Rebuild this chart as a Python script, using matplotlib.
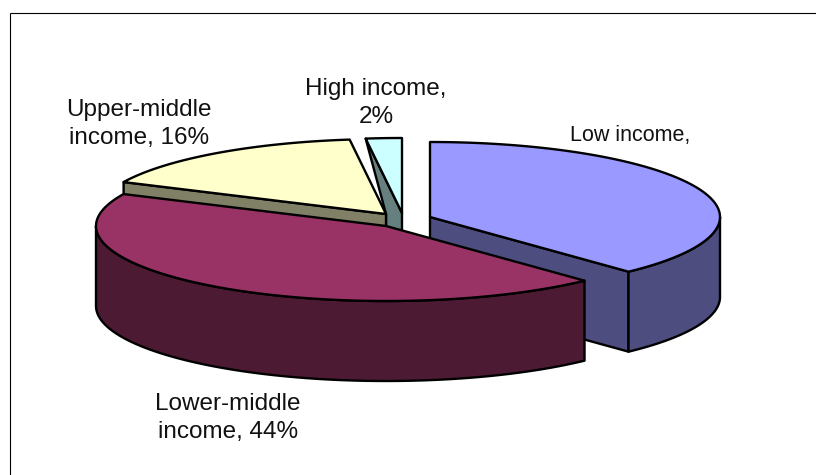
import numpy as np
import matplotlib
matplotlib.use('Agg')
import matplotlib.pyplot as plt
from matplotlib.patches import Polygon

plt.rcParams['font.family'] = ['Liberation Sans', 'DejaVu Sans']

# Chart data
categories = ['Low income', 'Lower-middle income', 'Upper-middle income', 'High income']
shares = [38, 44, 16, 2]

# Pie geometry, in pixels of the 816x475 canvas
RX, RY, DEPTH = 290, 75, 80
CENTERS = [(430, 217), (386, 226), (386, 214), (402, 213)]
TOP_COLORS = ['#9999FF', '#993366', '#FFFFCC', '#CCFFFF']
SIDE_COLORS = ['#4D4D80', '#4D1A33', '#808066', '#668080']
LW = 1.7


def rim(center, angle):
    a = np.radians(angle)
    return np.array([center[0] + RX * np.cos(a), center[1] - RY * np.sin(a)])


def arc(center, start, end):
    return [rim(center, t) for t in np.linspace(start, end, 120)]


def face(ax, pts, color):
    ax.add_patch(Polygon(np.array(pts), closed=True, facecolor=color, edgecolor='black',
                         linewidth=LW, joinstyle='round'))


def drop(p):
    return np.array([p[0], p[1] + DEPTH])


def draw_slice(ax, i, start, end):
    c = np.array(CENTERS[i], dtype=float)
    side = SIDE_COLORS[i]
    # cut faces, skipping those turned away from the viewer
    for angle, normal in ((start, start + 90), (end, end - 90)):
        if np.sin(np.radians(normal)) < -1e-6:
            p = rim(c, angle)
            face(ax, [c, p, drop(p), drop(c)], side)
    # outer wall, only the part turned towards the viewer
    low, high = max(end, -180), min(start, 0)
    if end < 0 and low < high:
        pts = arc(c, low, high)
        face(ax, pts + [drop(p) for p in pts[::-1]], side)
    face(ax, [c] + arc(c, start, end), TOP_COLORS[i])


fig = plt.figure(figsize=(8.16, 4.75), dpi=100)
ax = fig.add_axes([0, 0, 1, 1])
ax.set_xlim(0, 816)
ax.set_ylim(475, 0)
ax.axis('off')

# Chart frame shows only on its top and left sides
ax.plot([9.5, 816], [12.5, 12.5], color='black', lw=0.8, solid_capstyle='butt')
ax.plot([9.5, 9.5], [12.5, 475], color='black', lw=0.8, solid_capstyle='butt')

edges = 90 - np.cumsum([0] + shares) * 3.6
spans = {i: (edges[i], edges[i + 1]) for i in range(len(shares))}

# High income sits behind, its cut face is trimmed against the neighbour
s, e = spans[3]
c3 = np.array(CENTERS[3], dtype=float)
c2 = np.array(CENTERS[2], dtype=float)
p3 = rim(c3, s)
face(ax, [p3, c3, drop(c3), drop(c2), c2], SIDE_COLORS[3])
face(ax, [c3] + arc(c3, s, e), TOP_COLORS[3])

draw_slice(ax, 2, *spans[2])
draw_slice(ax, 0, *spans[0])
draw_slice(ax, 1, *spans[1])

label_kw = dict(ha='center', va='center', color='#111111', linespacing=1.34)
ax.text(139, 124, 'Upper-middle\nincome, 16%', fontsize=17.5, **label_kw)
ax.text(376, 103, 'High income,\n2%', fontsize=17.5, **label_kw)
ax.text(630, 135, 'Low income,', fontsize=15.5, **label_kw)
ax.text(228, 418, 'Lower-middle\nincome, 44%', fontsize=17.5, **label_kw)

fig.savefig('out.png', dpi=100)
